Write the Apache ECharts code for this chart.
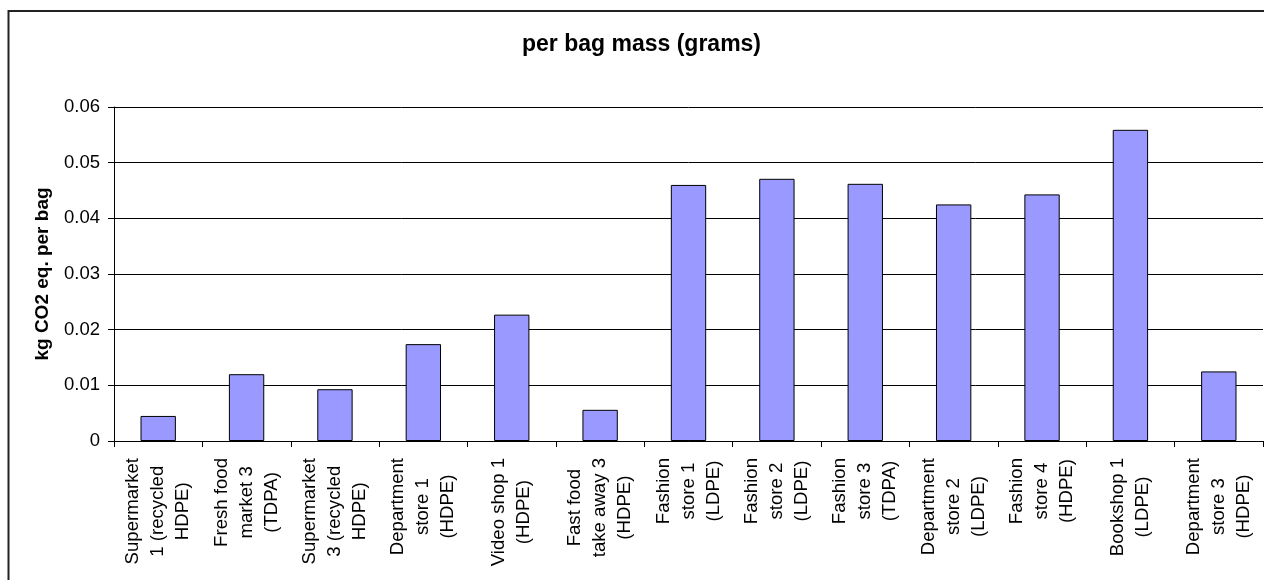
<!DOCTYPE html>
<html>
<head>
<meta charset="utf-8">
<title>per bag mass (grams)</title>
<script src="https://cdn.jsdelivr.net/npm/echarts@6/dist/echarts.min.js"></script>
<style>
  html, body { margin: 0; padding: 0; background: #fff; }
  #chart { width: 1264px; height: 580px; }
</style>
</head>
<body>
<div id="chart"></div>
<script>
// Carrier bag types, one bar each (line breaks as wrapped under the axis)
const categories = [
  'Supermarket\n1 (recycled\nHDPE)',
  'Fresh food\nmarket 3\n(TDPA)',
  'Supermarket\n3 (recycled\nHDPE)',
  'Department\nstore 1\n(HDPE)',
  'Video shop 1\n(HDPE)',
  'Fast food\ntake away 3\n(HDPE)',
  'Fashion\nstore 1\n(LDPE)',
  'Fashion\nstore 2\n(LDPE)',
  'Fashion\nstore 3\n(TDPA)',
  'Department\nstore 2\n(LDPE)',
  'Fashion\nstore 4\n(HDPE)',
  'Bookshop 1\n(LDPE)',
  'Department\nstore 3\n(HDPE)'
];

// kg CO2 eq. per bag
const co2PerBag = [
  0.0045, 0.0120, 0.0093, 0.0174, 0.0227, 0.0056,
  0.0460, 0.0471, 0.0462, 0.0425, 0.0443, 0.0559, 0.0125
];

const yTickLabels = ['0', '0.01', '0.02', '0.03', '0.04', '0.05', '0.06'];
const yStep = 0.01;

const FONT = '"Liberation Sans", Arial, sans-serif';

const chart = echarts.init(document.getElementById('chart'), null, { renderer: 'canvas' });

chart.setOption({
  backgroundColor: '#ffffff',
  animation: false,
  title: {
    text: 'per bag mass (grams)',
    left: 522,
    top: 33,
    padding: 0,
    textStyle: { fontFamily: FONT, fontSize: 23, fontWeight: 'bold', color: '#000' }
  },
  graphic: [{
    type: 'rect',
    silent: true,
    shape: { x: 8.5, y: 11, width: 1400, height: 800 },
    style: { fill: 'none', stroke: '#222', lineWidth: 2 }
  }],
  grid: { left: 114, right: 1, top: 107, bottom: 139, containLabel: false },
  xAxis: {
    type: 'category',
    data: categories,
    axisLine: { show: true, lineStyle: { color: '#000', width: 1 } },
    axisTick: { show: true, alignWithLabel: false, length: 6, lineStyle: { color: '#000' } },
    axisLabel: {
      interval: 0,
      rotate: 90,
      margin: 17,
      color: '#000',
      fontFamily: FONT,
      fontSize: 18.6,
      lineHeight: 25,
      formatter: v => v.split('\n').map(s => '{c|' + s + '}').join('\n'),
      rich: {
        c: { align: 'center', fontFamily: FONT, fontSize: 18.6, lineHeight: 25, color: '#000' }
      }
    },
    splitLine: { show: false }
  },
  yAxis: {
    type: 'value',
    min: 0,
    max: 0.06,
    interval: yStep,
    name: 'kg CO2 eq. per bag',
    nameLocation: 'middle',
    nameRotate: 90,
    nameGap: 62,
    nameTextStyle: { fontFamily: FONT, fontSize: 19, fontWeight: 'bold', color: '#000' },
    axisLine: { show: true, lineStyle: { color: '#000', width: 1 } },
    axisTick: { show: true, length: 6, lineStyle: { color: '#000' } },
    axisLabel: {
      margin: 14,
      color: '#000',
      fontFamily: FONT,
      fontSize: 18.5,
      formatter: v => yTickLabels[Math.round(v / yStep)]
    },
    splitLine: { show: true, lineStyle: { color: '#000', width: 1 } }
  },
  series: [{
    type: 'bar',
    data: co2PerBag,
    barCategoryGap: '60%',
    itemStyle: { color: '#9999FF', borderColor: '#000', borderWidth: 1 }
  }]
});
</script>
</body>
</html>
